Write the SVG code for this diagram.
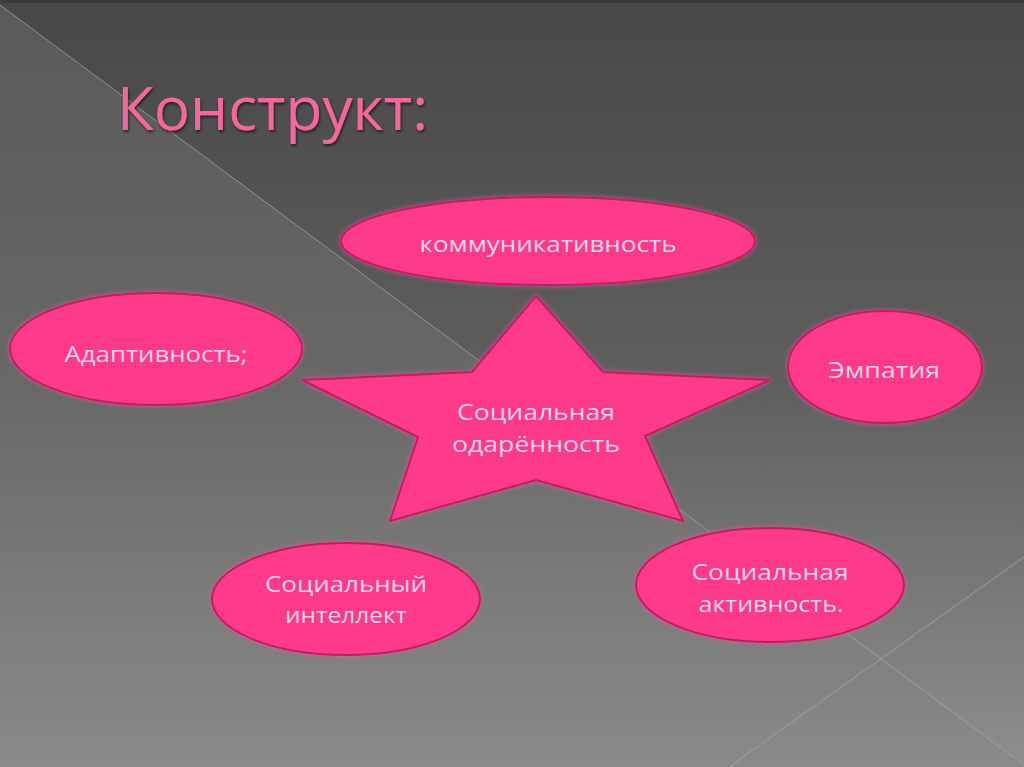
<svg xmlns="http://www.w3.org/2000/svg" width="1024" height="767" viewBox="0 0 1024 767">
<defs>
<linearGradient id="bg" x1="0" y1="0" x2="0" y2="1">
<stop offset="0" stop-color="#474747"/>
<stop offset="0.5" stop-color="#5f5f5f"/>
<stop offset="1" stop-color="#8e8e8e"/>
</linearGradient>
<linearGradient id="tri" x1="0" y1="0" x2="0" y2="1">
<stop offset="0" stop-color="#5a5a5a"/>
<stop offset="0.5" stop-color="#686868"/>
<stop offset="1" stop-color="#8a8a8a"/>
</linearGradient>
<filter id="glow" x="-10%" y="-15%" width="120%" height="130%">
<feGaussianBlur in="SourceAlpha" stdDeviation="2.5" result="b"/>
<feFlood flood-color="#ff4f9a" flood-opacity="0.7"/>
<feComposite in2="b" operator="in" result="g"/>
<feMerge><feMergeNode in="g"/><feMergeNode in="SourceGraphic"/></feMerge>
</filter>
<filter id="tshadow" x="-5%" y="-20%" width="110%" height="140%">
<feGaussianBlur in="SourceAlpha" stdDeviation="1.5" result="b"/>
<feOffset in="b" dx="1" dy="2" result="o"/>
<feFlood flood-color="#000" flood-opacity="0.6"/>
<feComposite in2="o" operator="in" result="s"/>
<feMerge><feMergeNode in="s"/><feMergeNode in="SourceGraphic"/></feMerge>
</filter>
</defs>
<style>
.shape{fill:#fd3a8a;stroke:#c21e62;stroke-width:2;filter:url(#glow)}
.lbl{font-family:"Open Sans","Liberation Sans",sans-serif;font-size:22px;fill:#f9d3e6;text-anchor:middle}
.title{font-family:"Open Sans","Liberation Sans",sans-serif;font-size:60px;fill:#f2679c;filter:url(#tshadow)}
.bgline{stroke:#a8a8a8;stroke-width:1;stroke-opacity:0.7;fill:none}
</style>
<rect x="0" y="0" width="1024" height="767" fill="url(#bg)"/>
<polygon points="0,5 1024,765 1024,767 0,767" fill="url(#tri)"/>
<rect x="0" y="0" width="1024" height="3" fill="#3a3a3a"/>
<g id="background-lines">
<line class="bgline" x1="0" y1="5" x2="1024" y2="765"/>
<line class="bgline" x1="729" y1="767" x2="1024" y2="557"/>
</g>
<text class="title" x="117" y="130" textLength="311" lengthAdjust="spacingAndGlyphs">Конструкт:</text>
<g id="connectors"></g>
<g id="node-kommunikativnost">
<ellipse class="shape" cx="548" cy="241" rx="207" ry="44"/>
<text class="lbl" x="548" y="252" textLength="257" lengthAdjust="spacingAndGlyphs">коммуникативность</text>
</g>
<g id="node-adaptivnost">
<ellipse class="shape" cx="156" cy="349" rx="146" ry="56"/>
<text class="lbl" x="156" y="362" textLength="183" lengthAdjust="spacingAndGlyphs">Адаптивность;</text>
</g>
<g id="node-empatiya">
<ellipse class="shape" cx="885" cy="367" rx="97" ry="56"/>
<text class="lbl" x="884" y="378" textLength="112" lengthAdjust="spacingAndGlyphs">Эмпатия</text>
</g>
<g id="node-star">
<polygon class="shape" points="536,296 603,372 770,380 645,436 683,521 536,480 390,521 418,437 302,380 472,372"/>
<text class="lbl" x="536" y="420" textLength="158" lengthAdjust="spacingAndGlyphs">Социальная</text>
<text class="lbl" x="536" y="452" textLength="168" lengthAdjust="spacingAndGlyphs">одарённость</text>
</g>
<g id="node-intellekt">
<ellipse class="shape" cx="346" cy="599" rx="134" ry="56"/>
<text class="lbl" x="346" y="592" textLength="162" lengthAdjust="spacingAndGlyphs">Социальный</text>
<text class="lbl" x="346" y="623" textLength="122" lengthAdjust="spacingAndGlyphs">интеллект</text>
</g>
<g id="node-aktivnost">
<ellipse class="shape" cx="770" cy="585" rx="134" ry="57"/>
<text class="lbl" x="770" y="580" textLength="157" lengthAdjust="spacingAndGlyphs">Социальная</text>
<text class="lbl" x="771" y="612" textLength="145" lengthAdjust="spacingAndGlyphs">активность.</text>
</g>
</svg>
